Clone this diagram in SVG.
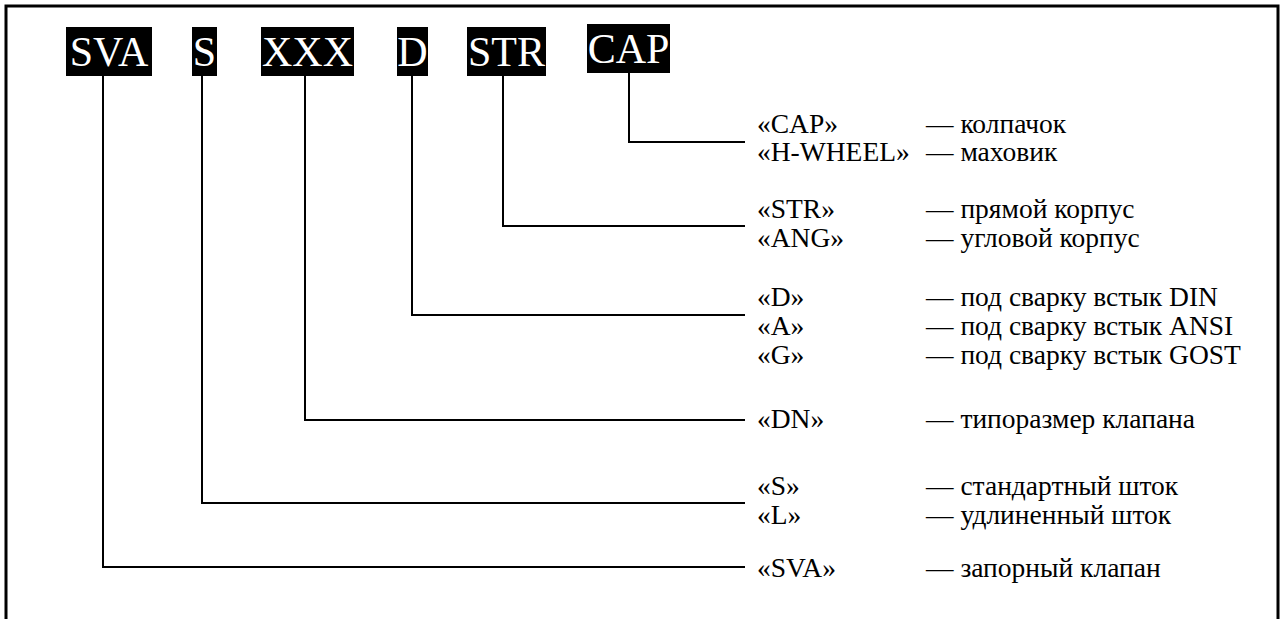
<svg xmlns="http://www.w3.org/2000/svg" width="1282" height="619" viewBox="0 0 1282 619">
<style>
.bg{fill:#fff}
.frame{fill:none;stroke:#000;stroke-width:3}
.box{fill:#000}
.code{font-family:"Liberation Serif","Times New Roman",serif;font-size:42px;fill:#fff;text-anchor:middle}
.lbl{font-family:"Liberation Serif","Times New Roman",serif;font-size:27.5px;fill:#000}
.conn{fill:none;stroke:#000;stroke-width:2}
</style>
<rect class="bg" x="0" y="0" width="1282" height="619"/>
<path class="frame" d="M6,619 V6 H1278 V619"/>
<g id="node-SVA"><rect class="box" x="66" y="27" width="86" height="49"/><text class="code" x="109" y="66">SVA</text></g>
<g id="node-S"><rect class="box" x="192" y="27" width="25" height="49"/><text class="code" x="204.5" y="66">S</text></g>
<g id="node-XXX"><rect class="box" x="261" y="27" width="93" height="49"/><text class="code" x="307.5" y="66">XXX</text></g>
<g id="node-D"><rect class="box" x="397" y="27" width="31" height="49"/><text class="code" x="412.5" y="66">D</text></g>
<g id="node-STR"><rect class="box" x="467" y="27" width="79" height="49"/><text class="code" x="506.5" y="66">STR</text></g>
<g id="node-CAP"><rect class="box" x="587" y="24" width="83" height="49"/><text class="code" x="628.5" y="63">CAP</text></g>
<g id="connectors">
<path class="conn" d="M629,73 V142 H745"/>
<path class="conn" d="M503,76 V226 H745"/>
<path class="conn" d="M412,76 V315 H745"/>
<path class="conn" d="M305,76 V420 H745"/>
<path class="conn" d="M202,76 V503 H745"/>
<path class="conn" d="M103,76 V567 H745"/>
</g>
<g id="legend">
<text class="lbl" x="757" y="133">«CAP»</text><text class="lbl" x="926" y="133">— колпачок</text>
<text class="lbl" x="757" y="161">«H-WHEEL»</text><text class="lbl" x="926" y="161">— маховик</text>
<text class="lbl" x="757" y="218">«STR»</text><text class="lbl" x="926" y="218">— прямой корпус</text>
<text class="lbl" x="757" y="247">«ANG»</text><text class="lbl" x="926" y="247">— угловой корпус</text>
<text class="lbl" x="757" y="306">«D»</text><text class="lbl" x="926" y="306">— под сварку встык DIN</text>
<text class="lbl" x="757" y="335">«A»</text><text class="lbl" x="926" y="335">— под сварку встык ANSI</text>
<text class="lbl" x="757" y="364">«G»</text><text class="lbl" x="926" y="364">— под сварку встык GOST</text>
<text class="lbl" x="757" y="428">«DN»</text><text class="lbl" x="926" y="428">— типоразмер клапана</text>
<text class="lbl" x="757" y="495">«S»</text><text class="lbl" x="926" y="495">— стандартный шток</text>
<text class="lbl" x="757" y="524">«L»</text><text class="lbl" x="926" y="524">— удлиненный шток</text>
<text class="lbl" x="757" y="577">«SVA»</text><text class="lbl" x="926" y="577">— запорный клапан</text>
</g>
</svg>
